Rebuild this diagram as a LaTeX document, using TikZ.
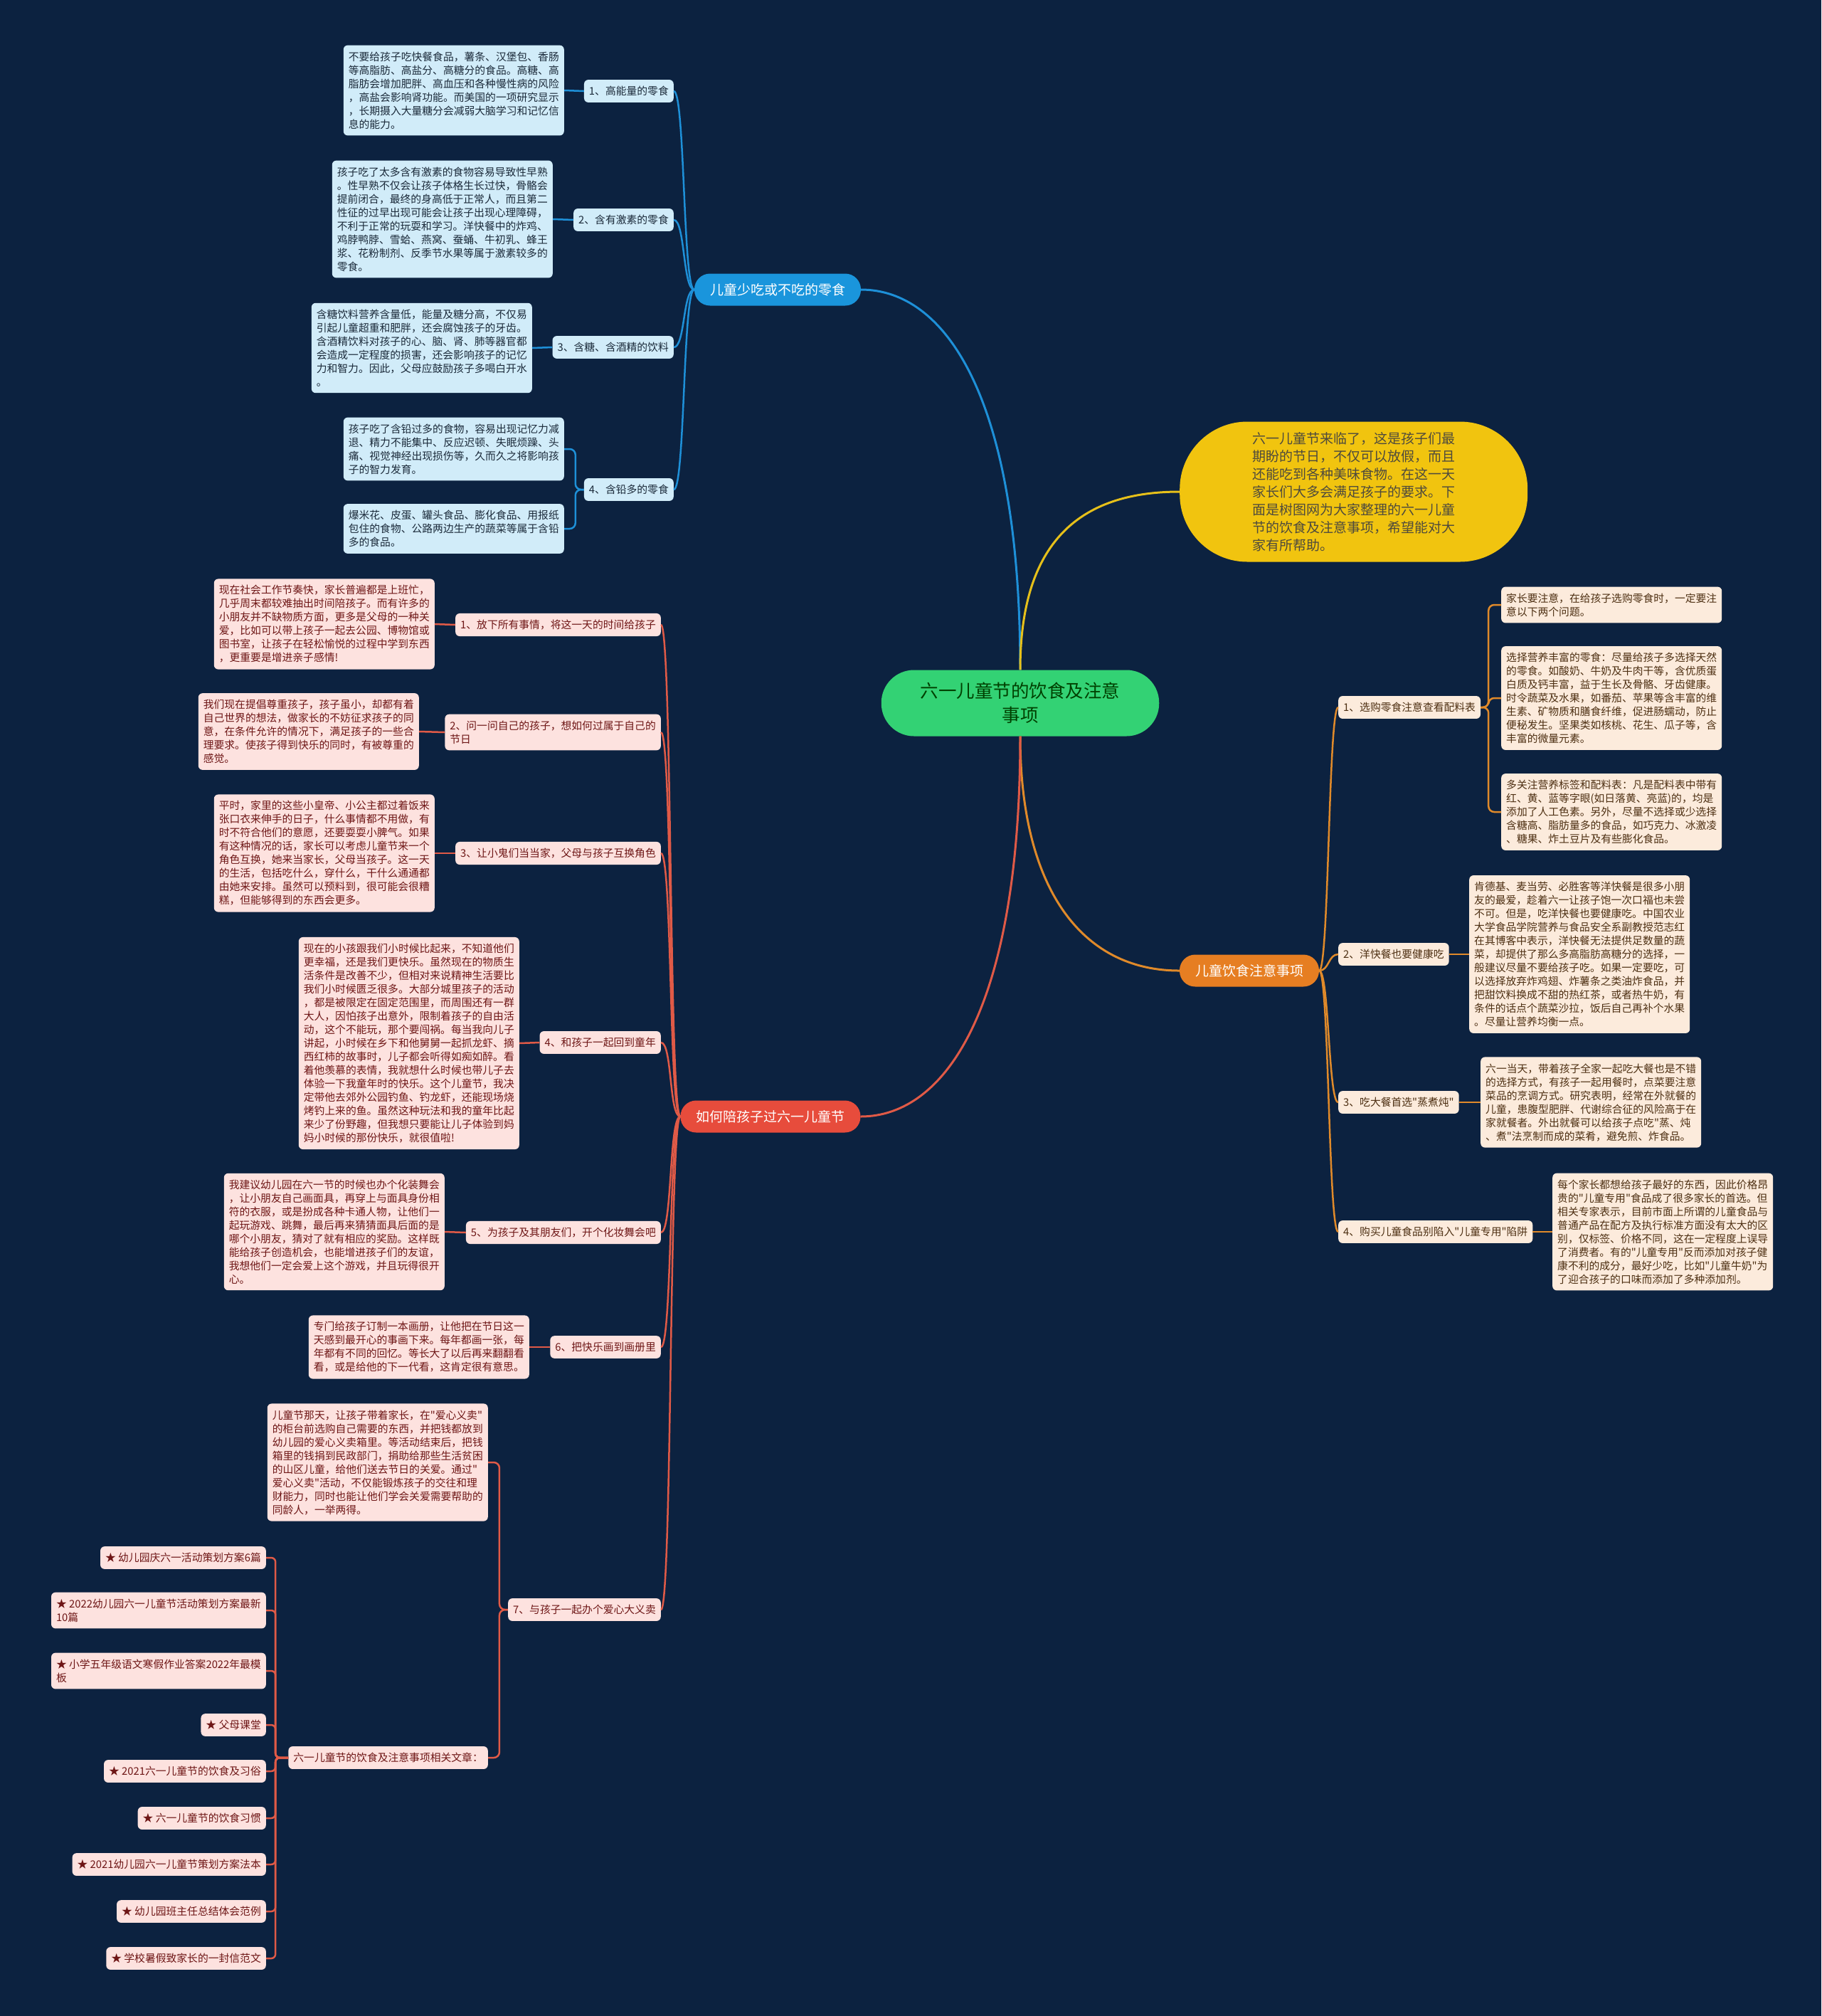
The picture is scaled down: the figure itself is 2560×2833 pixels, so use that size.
\documentclass[tikz,border=0pt]{standalone}
\usepackage{fontspec}
\newfontfamily\cjk{Noto Sans CJK SC}
\definecolor{bg}{HTML}{0C2240}
\definecolor{bluefill}{HTML}{D1ECF9}
\definecolor{bluetext}{HTML}{1B2A3A}
\definecolor{orfill}{HTML}{FCEBDC}
\definecolor{ortext}{HTML}{4D2F12}
\definecolor{redfill}{HTML}{FDE2DF}
\definecolor{redtext}{HTML}{6E1616}
\definecolor{bluemain}{HTML}{1A95DC}
\definecolor{ormain}{HTML}{E67E22}
\definecolor{redmain}{HTML}{E74C3C}
\definecolor{yelfill}{HTML}{F1C40F}
\definecolor{greenfill}{HTML}{33D274}
\definecolor{bluel}{HTML}{1E90D8}
\definecolor{yell}{HTML}{E6C01A}
\definecolor{orl}{HTML}{E08A2A}
\definecolor{redl}{HTML}{E05A47}
\tikzset{
  base/.style={font=\cjk\fontsize{14.8}{19}\selectfont, inner xsep=7pt, inner ysep=9pt, rounded corners=6pt, align=left},
  bbox/.style={base, fill=bluefill, text=bluetext},
  obox/.style={base, fill=orfill, text=ortext},
  rbox/.style={base, fill=redfill, text=redtext},
  mainbox/.style={font=\cjk\fontsize{19}{24}\selectfont, text=white, rounded corners=22pt, inner xsep=22pt, minimum height=45pt},
  conn/.style={line width=2.5pt, rounded corners=8pt},
  bconn/.style={conn, draw=bluel},
  oconn/.style={conn, draw=orl},
  rconn/.style={conn, draw=redl},
  mconn/.style={line width=3pt},
}
\begin{document}
\begin{tikzpicture}[x=1pt,y=-1pt]
\fill[bg] (0,0) rectangle (2560,2833);
\useasboundingbox (0,0) rectangle (2560,2833);

% centre and main nodes
\node[fill=greenfill, text=green!25!black, font=\cjk\fontsize{25.5}{34}\selectfont, align=center, rounded corners=46pt, inner xsep=55pt, minimum height=93pt] (c) at (1434,988) {六一儿童节的饮食及注意\\事项};
\node[fill=yelfill, text=black!80!yellow, font=\cjk\fontsize{19}{25}\selectfont, align=left, rounded corners=95pt, inner xsep=102pt, inner ysep=12pt, minimum height=197pt, anchor=west] (yl) at (1658,691) {六一儿童节来临了，这是孩子们最\\期盼的节日，不仅可以放假，而且\\还能吃到各种美味食物。在这一天\\家长们大多会满足孩子的要求。下\\面是树图网为大家整理的六一儿童\\节的饮食及注意事项，希望能对大\\家有所帮助。};
\node[mainbox, fill=bluemain] (bm) at (1093,407) {儿童少吃或不吃的零食};
\node[mainbox, fill=ormain] (om) at (1756,1364) {儿童饮食注意事项};
\node[mainbox, fill=redmain] (rm) at (1083,1569) {如何陪孩子过六一儿童节};

% blue branch
\node[bbox, anchor=east] (b1) at (947,128) {1、高能量的零食};
\node[bbox, anchor=east] (b1t) at (793,127) {不要给孩子吃快餐食品，薯条、汉堡包、香肠\\等高脂肪、高盐分、高糖分的食品。高糖、高\\脂肪会增加肥胖、高血压和各种慢性病的风险\\，高盐会影响肾功能。而美国的一项研究显示\\，长期摄入大量糖分会减弱大脑学习和记忆信\\息的能力。};
\node[bbox, anchor=east] (b2) at (947,309) {2、含有激素的零食};
\node[bbox, anchor=east] (b2t) at (777,308) {孩子吃了太多含有激素的食物容易导致性早熟\\。性早熟不仅会让孩子体格生长过快，骨骼会\\提前闭合，最终的身高低于正常人，而且第二\\性征的过早出现可能会让孩子出现心理障碍，\\不利于正常的玩耍和学习。洋快餐中的炸鸡、\\鸡脖鸭脖、雪蛤、燕窝、蚕蛹、牛初乳、蜂王\\浆、花粉制剂、反季节水果等属于激素较多的\\零食。};
\node[bbox, anchor=east] (b3) at (947,488) {3、含糖、含酒精的饮料};
\node[bbox, anchor=east] (b3t) at (748,489) {含糖饮料营养含量低，能量及糖分高，不仅易\\引起儿童超重和肥胖，还会腐蚀孩子的牙齿。\\含酒精饮料对孩子的心、脑、肾、肺等器官都\\会造成一定程度的损害，还会影响孩子的记忆\\力和智力。因此，父母应鼓励孩子多喝白开水\\。};
\node[bbox, anchor=east] (b4) at (947,688) {4、含铅多的零食};
\node[bbox, anchor=east] (b4a) at (793,631) {孩子吃了含铅过多的食物，容易出现记忆力减\\退、精力不能集中、反应迟顿、失眠烦躁、头\\痛、视觉神经出现损伤等，久而久之将影响孩\\子的智力发育。};
\node[bbox, anchor=east] (b4b) at (793,743) {爆米花、皮蛋、罐头食品、膨化食品、用报纸\\包住的食物、公路两边生产的蔬菜等属于含铅\\多的食品。};

% orange branch
\node[obox, anchor=west] (o1) at (1881,994) {1、选购零食注意查看配料表};
\node[obox, anchor=west] (o1a) at (2110,850) {家长要注意，在给孩子选购零食时，一定要注\\意以下两个问题。};
\node[obox, anchor=west] (o1b) at (2110,981) {选择营养丰富的零食：尽量给孩子多选择天然\\的零食。如酸奶、牛奶及牛肉干等，含优质蛋\\白质及钙丰富，益于生长及骨骼、牙齿健康。\\时令蔬菜及水果，如番茄、苹果等含丰富的维\\生素、矿物质和膳食纤维，促进肠蠕动，防止\\便秘发生。坚果类如核桃、花生、瓜子等，含\\丰富的微量元素。};
\node[obox, anchor=west] (o1c) at (2110,1141) {多关注营养标签和配料表：凡是配料表中带有\\红、黄、蓝等字眼(如日落黄、亮蓝)的，均是\\添加了人工色素。另外，尽量不选择或少选择\\含糖高、脂肪量多的食品，如巧克力、冰激凌\\、糖果、炸土豆片及有些膨化食品。};
\node[obox, anchor=west] (o2) at (1881,1341) {2、洋快餐也要健康吃};
\node[obox, anchor=west] (o2t) at (2065,1341) {肯德基、麦当劳、必胜客等洋快餐是很多小朋\\友的最爱，趁着六一让孩子饱一次口福也未尝\\不可。但是，吃洋快餐也要健康吃。中国农业\\大学食品学院营养与食品安全系副教授范志红\\在其博客中表示，洋快餐无法提供足数量的蔬\\菜，却提供了那么多高脂肪高糖分的选择，一\\般建议尽量不要给孩子吃。如果一定要吃，可\\以选择放弃炸鸡翅、炸薯条之类油炸食品，并\\把甜饮料换成不甜的热红茶，或者热牛奶，有\\条件的话点个蔬菜沙拉，饭后自己再补个水果\\。尽量让营养均衡一点。};
\node[obox, anchor=west] (o3) at (1881,1549) {3、吃大餐首选"蒸煮炖"};
\node[obox, anchor=west] (o3t) at (2081,1549) {六一当天，带着孩子全家一起吃大餐也是不错\\的选择方式，有孩子一起用餐时，点菜要注意\\菜品的烹调方式。研究表明，经常在外就餐的\\儿童，患腹型肥胖、代谢综合征的风险高于在\\家就餐者。外出就餐可以给孩子点吃"蒸、炖\\、煮"法烹制而成的菜肴，避免煎、炸食品。};
\node[obox, anchor=west] (o4) at (1881,1731) {4、购买儿童食品别陷入"儿童专用"陷阱};
\node[obox, anchor=west] (o4t) at (2182,1731) {每个家长都想给孩子最好的东西，因此价格昂\\贵的"儿童专用"食品成了很多家长的首选。但\\相关专家表示，目前市面上所谓的儿童食品与\\普通产品在配方及执行标准方面没有太大的区\\别，仅标签、价格不同，这在一定程度上误导\\了消费者。有的"儿童专用"反而添加对孩子健\\康不利的成分，最好少吃，比如"儿童牛奶"为\\了迎合孩子的口味而添加了多种添加剂。};

% red branch
\node[rbox, anchor=east] (r1) at (929,878) {1、放下所有事情，将这一天的时间给孩子};
\node[rbox, anchor=east] (r1t) at (611,877) {现在社会工作节奏快，家长普遍都是上班忙，\\几乎周末都较难抽出时间陪孩子。而有许多的\\小朋友并不缺物质方面，更多是父母的一种关\\爱，比如可以带上孩子一起去公园、博物馆或\\图书室，让孩子在轻松愉悦的过程中学到东西\\，更重要是增进亲子感情!};
\node[rbox, anchor=east] (r2) at (929,1029) {2、问一问自己的孩子，想如何过属于自己的\\节日};
\node[rbox, anchor=east] (r2t) at (589,1028) {我们现在提倡尊重孩子，孩子虽小，却都有着\\自己世界的想法，做家长的不妨征求孩子的同\\意，在条件允许的情况下，满足孩子的一些合\\理要求。使孩子得到快乐的同时，有被尊重的\\感觉。};
\node[rbox, anchor=east] (r3) at (929,1199) {3、让小鬼们当当家，父母与孩子互换角色};
\node[rbox, anchor=east] (r3t) at (611,1199) {平时，家里的这些小皇帝、小公主都过着饭来\\张口衣来伸手的日子，什么事情都不用做，有\\时不符合他们的意愿，还要耍耍小脾气。如果\\有这种情况的话，家长可以考虑儿童节来一个\\角色互换，她来当家长，父母当孩子。这一天\\的生活，包括吃什么，穿什么，干什么通通都\\由她来安排。虽然可以预料到，很可能会很糟\\糕，但能够得到的东西会更多。};
\node[rbox, anchor=east] (r4) at (929,1465) {4、和孩子一起回到童年};
\node[rbox, anchor=east] (r4t) at (730,1466) {现在的小孩跟我们小时候比起来，不知道他们\\更幸福，还是我们更快乐。虽然现在的物质生\\活条件是改善不少，但相对来说精神生活要比\\我们小时候匮乏很多。大部分城里孩子的活动\\，都是被限定在固定范围里，而周围还有一群\\大人，因怕孩子出意外，限制着孩子的自由活\\动，这个不能玩，那个要闯祸。每当我向儿子\\讲起，小时候在乡下和他舅舅一起抓龙虾、摘\\西红柿的故事时，儿子都会听得如痴如醉。看\\着他羡慕的表情，我就想什么时候也带儿子去\\体验一下我童年时的快乐。这个儿童节，我决\\定带他去郊外公园钓鱼、钓龙虾，还能现场烧\\烤钓上来的鱼。虽然这种玩法和我的童年比起\\来少了份野趣，但我想只要能让儿子体验到妈\\妈小时候的那份快乐，就很值啦!};
\node[rbox, anchor=east] (r5) at (929,1732) {5、为孩子及其朋友们，开个化妆舞会吧};
\node[rbox, anchor=east] (r5t) at (625,1731) {我建议幼儿园在六一节的时候也办个化装舞会\\，让小朋友自己画面具，再穿上与面具身份相\\符的衣服，或是扮成各种卡通人物，让他们一\\起玩游戏、跳舞，最后再来猜猜面具后面的是\\哪个小朋友，猜对了就有相应的奖励。这样既\\能给孩子创造机会，也能增进孩子们的友谊，\\我想他们一定会爱上这个游戏，并且玩得很开\\心。};
\node[rbox, anchor=east] (r6) at (929,1893) {6、把快乐画到画册里};
\node[rbox, anchor=east] (r6t) at (744,1893) {专门给孩子订制一本画册，让他把在节日这一\\天感到最开心的事画下来。每年都画一张，每\\年都有不同的回忆。等长大了以后再来翻翻看\\看，或是给他的下一代看，这肯定很有意思。};
\node[rbox, anchor=east] (r7) at (929,2262) {7、与孩子一起办个爱心大义卖};
\node[rbox, anchor=east] (r7t) at (686,2055) {儿童节那天，让孩子带着家长，在"爱心义卖"\\的柜台前选购自己需要的东西，并把钱都放到\\幼儿园的爱心义卖箱里。等活动结束后，把钱\\箱里的钱捐到民政部门，捐助给那些生活贫困\\的山区儿童，给他们送去节日的关爱。通过"\\爱心义卖"活动，不仅能锻炼孩子的交往和理\\财能力，同时也能让他们学会关爱需要帮助的\\同龄人，一举两得。};
\node[rbox, anchor=east] (rel) at (686,2470) {六一儿童节的饮食及注意事项相关文章：};
\node[rbox, anchor=east] (a1) at (374,2189) {★ 幼儿园庆六一活动策划方案6篇};
\node[rbox, anchor=east] (a2) at (374,2263) {★ 2022幼儿园六一儿童节活动策划方案最新\\10篇};
\node[rbox, anchor=east] (a3) at (374,2348) {★ 小学五年级语文寒假作业答案2022年最模\\板};
\node[rbox, anchor=east] (a4) at (374,2424) {★ 父母课堂};
\node[rbox, anchor=east] (a5) at (374,2489) {★ 2021六一儿童节的饮食及习俗};
\node[rbox, anchor=east] (a6) at (374,2555) {★ 六一儿童节的饮食习惯};
\node[rbox, anchor=east] (a7) at (374,2620) {★ 2021幼儿园六一儿童节策划方案法本};
\node[rbox, anchor=east] (a8) at (374,2686) {★ 幼儿园班主任总结体会范例};
\node[rbox, anchor=east] (a9) at (374,2752) {★ 学校暑假致家长的一封信范文};

% main connectors
\draw[mconn, draw=bluel] (c.north) .. controls +(0,-380) and +(120,0) .. (bm.east);
\draw[mconn, draw=yell] (c.north) .. controls +(0,-180) and +(-140,0) .. (yl.west);
\draw[mconn, draw=orl] (c.south) .. controls +(0,210) and +(-140,0) .. (om.west);
\draw[mconn, draw=redl] (c.south) .. controls +(0,380) and +(120,0) .. (rm.east);

% blue connectors
\foreach \n in {b1,b2,b3,b4}
  \draw[bconn] (bm.west) .. controls +(-16,0) and +(16,0) .. (\n.east);
\draw[bconn] (b1t.east) -- (b1.west);
\draw[bconn] (b2t.east) -- (b2.west);
\draw[bconn] (b3t.east) -- (b3.west);
\draw[bconn] (b4.west) -- ++(-12,0) |- (b4a.east);
\draw[bconn] (b4.west) -- ++(-12,0) |- (b4b.east);

% orange connectors
\foreach \n in {o1,o2,o3,o4}
  \draw[oconn] (om.east) .. controls +(14,0) and +(-14,0) .. (\n.west);
\draw[oconn] (o1.east) -- ++(11,0) |- (o1a.west);
\draw[oconn] (o1.east) -- ++(11,0) |- (o1b.west);
\draw[oconn] (o1.east) -- ++(11,0) |- (o1c.west);
\draw[oconn] (o2.east) -- (o2t.west);
\draw[oconn] (o3.east) -- (o3t.west);
\draw[oconn] (o4.east) -- (o4t.west);

% red connectors
\foreach \n in {r1,r2,r3,r4,r5,r6,r7}
  \draw[rconn] (rm.west) .. controls +(-16,0) and +(16,0) .. (\n.east);
\draw[rconn] (r1t.east) -- (r1.west);
\draw[rconn] (r2t.east) -- (r2.west);
\draw[rconn] (r3t.east) -- (r3.west);
\draw[rconn] (r4t.east) -- (r4.west);
\draw[rconn] (r5t.east) -- (r5.west);
\draw[rconn] (r6t.east) -- (r6.west);
\draw[rconn] (r7.west) -- ++(-12,0) |- (r7t.east);
\draw[rconn] (r7.west) -- ++(-12,0) |- (rel.east);
\foreach \n in {a1,a2,a3,a4,a5,a6,a7,a8,a9}
  \draw[rconn, rounded corners=6pt] (rel.west) -- ++(-18,0) |- (\n.east);
\end{tikzpicture}
\end{document}
